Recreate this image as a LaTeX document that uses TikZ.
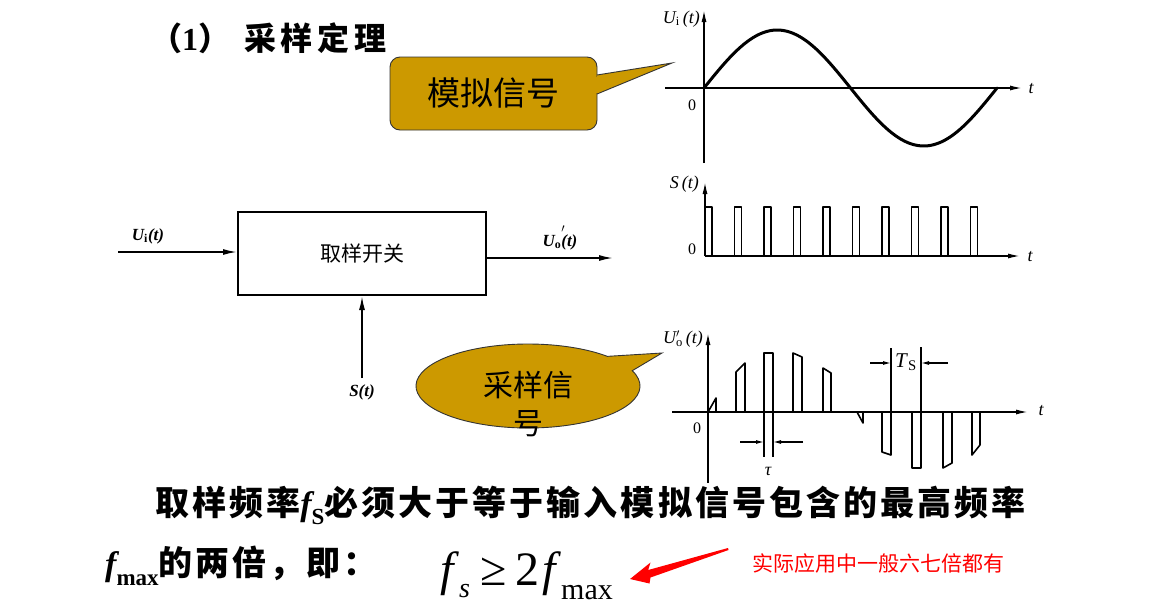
\documentclass[tikz,border=0pt]{standalone}
\usepackage{fontspec}
\setmainfont{Liberation Serif}
\newfontfamily\cjk{Noto Sans CJK SC}
\newfontfamily\cjkls[LetterSpace=9]{Noto Sans CJK SC}
\newfontfamily\cjkt[LetterSpace=15]{Noto Sans CJK SC}
\usetikzlibrary{arrows.meta}
\definecolor{gold}{HTML}{CC9900}
\definecolor{redtxt}{HTML}{FF0000}
\definecolor{edge}{HTML}{333333}
\begin{document}
\begin{tikzpicture}[x=1pt,y=-1pt,
  ax/.style={line width=1.4pt,-{Latex[length=12pt,width=5pt]}},
  blk/.style={line width=1.6pt,-{Latex[length=14pt,width=6pt]}},
  dim/.style={line width=1.2pt,-{Latex[length=8pt,width=4pt]}},
  pulse/.style={line width=1.6pt,line join=round},
  wave/.style={line width=3pt,line cap=round},
  lbl/.style={font=\fontsize{18}{18}\selectfont\itshape,inner sep=0pt},
  zero/.style={font=\fontsize{16}{16}\selectfont,inner sep=0pt},
  blbl/.style={font=\fontsize{17}{17}\selectfont\bfseries\itshape,inner sep=0pt},
  callout/.style={fill=gold,draw=edge,line width=0.9pt}]
\useasboundingbox (0,0) rectangle (1159,608);
\fill[white] (0,0) rectangle (1159,608);

% title
\node[anchor=base west,inner sep=0pt] (title) at (150,50)
  {\fontsize{32}{32}\selectfont\cjkt\bfseries （{\rmfamily\bfseries 1}）\hspace{14pt}采样定理};

% callout 1
\draw[callout,rounded corners=10pt] (390,57) rectangle (597,130);
\draw[callout] (597,75) -- (672,63) -- (597,94);
\fill[gold] (596,76.5) rectangle (598.5,92.5);
\node[inner sep=0pt] (c1) at (493,93) {\fontsize{33}{33}\selectfont\cjk 模拟信号};

% callout 2
\draw[callout] (528,386) ++(-21.4:112 and 42)
  arc[start angle=-21.4,end angle=315.1,x radius=112,y radius=42]
  -- (662,353) -- cycle;
\node[inner sep=0pt,align=center,font=\fontsize{30}{38}\selectfont\cjk] (c2) at (528,404)
  {采样信\\号};

% top graph: input signal
\draw[ax] (704,163) -- (704,10);
\draw[ax] (665,88) -- (1022,88);
\draw[wave] plot[domain=0:293,samples=90] ({704+\x},{88-58*sin(\x/293*360)});
\node[lbl,anchor=east] (lu) at (700,19) {U\textsubscript{\upshape i}\,(t)};
\node[zero] (z1) at (692,105) {0};
\node[lbl] (t1) at (1031,89) {t};

% S(t) graph
\draw[ax] (705,256) -- (705,182);
\draw[ax] (705,256) -- (1020,256);
\foreach \k in {0,...,9}{
  \pgfmathsetmacro\xa{705+29.5*\k}
  \draw[pulse] (\xa,256) -- (\xa,207) -- (\xa+7,207) -- (\xa+7,256);
}
\node[lbl,anchor=east] (ls) at (699,184) {S\,(t)};
\node[zero] (z2) at (692,249) {0};
\node[lbl] (t2) at (1030,257) {t};

% sampled graph
\draw[ax] (708,483) -- (708,333);
\draw[ax] (672,412) -- (1028,412);
\draw[pulse] (708,412) -- (716,398) -- (716,412);
\draw[pulse] (857,412) -- (863,423) -- (863,412);
\foreach \a/\b/\ya/\yb in {736/745/372/363,764/773/353/353,793/802/353/357,823/831/368/373,882/891/452/455,912/921/468/468,943/952/468/463,972/980/455/445}{
  \draw[pulse] (\a,412) -- (\a,\ya) -- (\b,\yb) -- (\b,412);
}
\draw[line width=1.2pt] (764,412) -- (764,457);
\draw[line width=1.2pt] (773,412) -- (773,457);
\draw[line width=1.2pt] (891,348) -- (891,412);
\draw[line width=1.2pt] (921,347) -- (921,412);
\coordinate (ta1) at (740,442);
\coordinate (ta2) at (764,442);
\coordinate (tb1) at (803,442);
\coordinate (tb2) at (773,442);
\draw[dim] (ta1) -- (ta2);
\draw[dim] (tb1) -- (tb2);
\coordinate (sa1) at (870,363);
\coordinate (sa2) at (891,363);
\coordinate (sb1) at (948,363);
\coordinate (sb2) at (921,363);
\draw[dim] (sa1) -- (sa2);
\draw[dim] (sb1) -- (sb2);
\node[inner sep=0pt,font=\fontsize{18}{18}\selectfont\itshape] (tau) at (768,471) {τ};
\node[inner sep=0pt,font=\fontsize{21}{21}\selectfont] (ts) at (906,362) {\textit{T}\textsubscript{S}};
\node[lbl,anchor=east] (lo) at (703,339) {U\rlap{$'$}\textsubscript{\upshape o}\,(t)};
\node[zero] (z3) at (697,428) {0};
\node[lbl] (t3) at (1041,411) {t};

% block diagram
\node[draw,line width=2pt,minimum width=248pt,minimum height=83pt,inner sep=0pt] (sw) at (362,253.5)
  {\fontsize{21}{21}\selectfont\cjk 取样开关};
\coordinate (in) at (118,252);
\coordinate (out) at (613,258);
\coordinate (st) at (362,378);
\draw[blk] (in) -- (in -| sw.west);
\draw[blk] (out -| sw.east) -- (out);
\draw[blk] (st) -- (sw.south);
\node[blbl] (li) at (148,236) {U\textsubscript{\upshape i}(t)};
\node[blbl] (lout) at (560,238) {U\textsubscript{\upshape o}\rlap{\raisebox{0.9ex}{$'$}}(t)};
\node[blbl] (lst) at (362,392) {S(t)};

% bottom text
\node[anchor=base west,inner sep=0pt] (l1) at (155,515)
  {\fontsize{34}{34}\selectfont\cjkls\bfseries 取样频率{\rmfamily\bfseries\itshape f}\raisebox{-0.28em}{\rmfamily\bfseries\fontsize{23}{23}\selectfont S}必须大于等于输入模拟信号包含的最高频率};
\node[anchor=base west,inner sep=0pt] (l2) at (105,575)
  {\fontsize{34}{34}\selectfont\cjkls\bfseries{\rmfamily\bfseries\itshape f}\raisebox{-0.3em}{\rmfamily\bfseries\fontsize{23}{23}\selectfont max}的两倍，即：};
\node[anchor=base west,inner sep=0pt] (fm) at (440,585)
  {\fontsize{48}{48}\selectfont\textit{f}\raisebox{-0.25em}{\fontsize{28}{28}\selectfont\textit{s}}\hspace{11pt}≥\hspace{8pt}2\hspace{3pt}\textit{f}\raisebox{-0.3em}{\fontsize{30}{30}\selectfont max}};
\node[anchor=base west,inner sep=0pt,text=redtxt] (note) at (752,571)
  {\fontsize{21}{21}\selectfont\cjk 实际应用中一般六七倍都有};
\fill[redtxt] (630,579) -- (650.5,562.5) -- (648.2,570.0) -- (728,548) -- (728.5,550) -- (650.5,577.5) -- (649.5,583.5) -- cycle;
\end{tikzpicture}
\end{document}
